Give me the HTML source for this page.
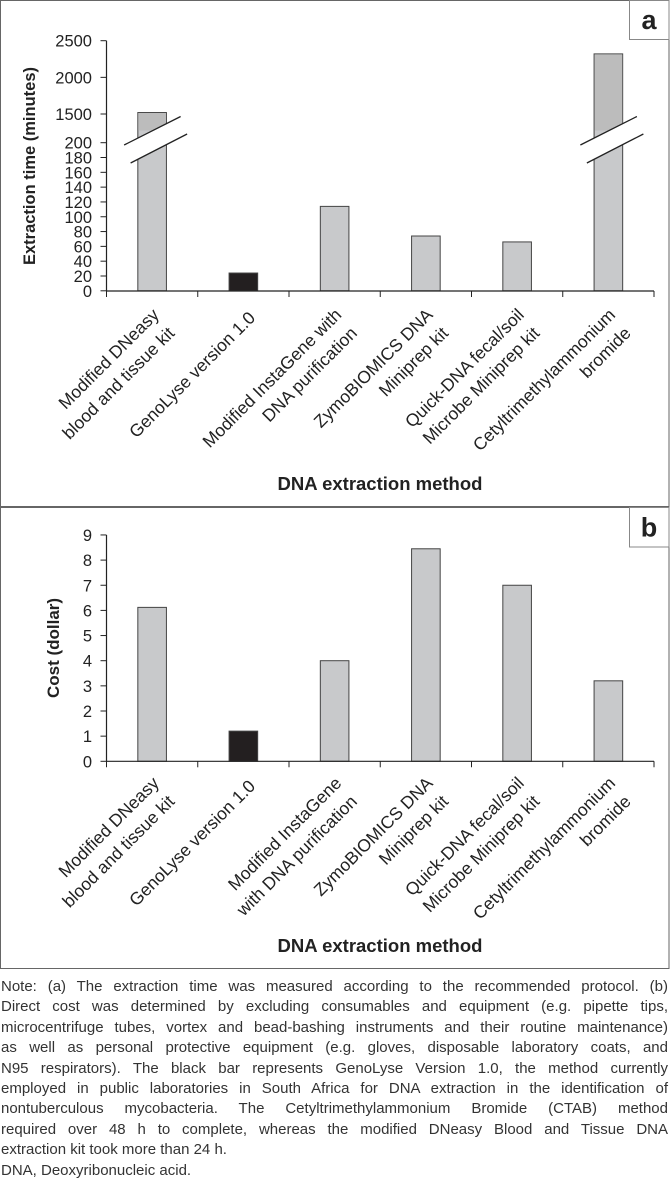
<!DOCTYPE html>
<html><head><meta charset="utf-8"><style>
body{margin:0;background:#fff;width:670px;height:1178px;overflow:hidden;font-family:"Liberation Sans",sans-serif}
svg{position:absolute;left:0;top:0}
#notes{position:absolute;left:1px;top:977px;width:667px;font-size:15px;line-height:20.4px;color:#333}
#notes div{white-space:nowrap;text-align:justify;text-align-last:justify}
#notes div.l{text-align-last:left}
</style></head><body>
<svg id="fig" width="670" height="975"></svg>
<div id="notes">
<div>Note: (a) The extraction time was measured according to the recommended protocol. (b)</div>
<div>Direct cost was determined by excluding consumables and equipment (e.g. pipette tips,</div>
<div>microcentrifuge tubes, vortex and bead-bashing instruments and their routine maintenance)</div>
<div>as well as personal protective equipment (e.g. gloves, disposable laboratory coats, and</div>
<div>N95 respirators). The black bar represents GenoLyse Version 1.0, the method currently</div>
<div>employed in public laboratories in South Africa for DNA extraction in the identification of</div>
<div>nontuberculous mycobacteria. The Cetyltrimethylammonium Bromide (CTAB) method</div>
<div>required over 48 h to complete, whereas the modified DNeasy Blood and Tissue DNA</div>
<div class="l">extraction kit took more than 24 h.</div>
<div class="l">DNA, Deoxyribonucleic acid.</div>
</div>
<script>
const labelsA=[["Modified DNeasy","blood and tissue kit"],["GenoLyse version 1.0"],["Modified InstaGene with","DNA purification"],["ZymoBIOMICS DNA","Miniprep kit"],["Quick-DNA fecal/soil","Microbe Miniprep kit"],["Cetyltrimethylammonium","bromide"]];
const labelsB=[["Modified DNeasy","blood and tissue kit"],["GenoLyse version 1.0"],["Modified InstaGene","with DNA purification"],["ZymoBIOMICS DNA","Miniprep kit"],["Quick-DNA fecal/soil","Microbe Miniprep kit"],["Cetyltrimethylammonium","bromide"]];
const timeValues=[1520,24,114,74,66,2320];
const costValues=[6.12,1.2,4.0,8.45,7.0,3.2];
const timeTicksLow=[0,20,40,60,80,100,120,140,160,180,200];
const timeTicksHigh=[1500,2000,2500];
const costTicks=[0,1,2,3,4,5,6,7,8,9];
const highlight=[false,true,false,false,false,false];

const NS="http://www.w3.org/2000/svg";
const svg=document.getElementById('fig');
function el(t,a,p){const e=document.createElementNS(NS,t);for(const k in a)e.setAttribute(k,a[k]);(p||svg).appendChild(e);return e;}
const X0=106.5,X1=654,CW=(X1-X0)/6,BW=28.6;
function xc(i){return X0+CW*(i+0.5);}
function yTime(v){return v<=200?290.8-v*0.7405:114-(v-1500)*0.0733;}
function yCost(v){return 761.3-v*25.15;}

let p=el('rect',{x:0.5,y:0.5,width:668.5,height:506,fill:'none',stroke:'#666','stroke-width':1});

p=el('rect',{x:0.5,y:507.5,width:668.5,height:461,fill:'none',stroke:'#666','stroke-width':1});

function tagBox(y0,h,t,name){
  const r=el('rect',{x:629.5,y:y0,width:39.5,height:h,fill:'#fff',stroke:'#888'});
  
  const tx=el('text',{x:649,y:y0+h/2+9,'text-anchor':'middle','font-size':27,'font-weight':'bold',fill:'#222'});
  tx.textContent=t;
}
tagBox(0.5,39,'a','panel-label-a');
tagBox(507.5,39.5,'b','panel-label-b');

function xAxis(base,labels,tipOff,name){
  const l=el('line',{x1:X0,y1:base,x2:X1,y2:base,stroke:'#222','stroke-width':1.2});
  
  for(let i=0;i<=6;i++){const t=el('line',{x1:X0+CW*i,y1:base,x2:X0+CW*i,y2:base+6,stroke:'#222'});
    }
  labels.forEach((ls,i)=>{
    const one=ls.length===1;
    const g=el('g',{transform:`translate(${xc(i)+(one?3:-2)},${base+tipOff+(one?3:0)}) rotate(-45)`});
    
    ls.forEach((s,j)=>{const t=el('text',{x:-j*2,y:14+j*24,'text-anchor':'end','font-size':17.5,fill:'#222'},g);t.textContent=s;});
  });
}
function yTick(y,label,name){
  const t=el('line',{x1:X0-6,y1:y,x2:X0,y2:y,stroke:'#222'});
  
  const tx=el('text',{x:92,y:y+6,'text-anchor':'end','font-size':16.5,fill:'#222'});
  tx.textContent=label;
}
function bar(i,top,base,name,dark){
  const r=el('rect',{x:xc(i)-BW/2,y:top,width:BW,height:base-top,fill:dark?'#231f20':'#c8c9cb',stroke:'#444','stroke-width':1});
  
}

let ax=el('line',{x1:X0,y1:yTime(2500),x2:X0,y2:291,stroke:'#222','stroke-width':1.2});

timeTicksLow.forEach(v=>yTick(yTime(v),v,'a-y-tick-label'));
timeTicksHigh.forEach(v=>yTick(yTime(v),v,'a-y-tick-label'));
timeValues.forEach((v,i)=>{
  const base=yTime(0);
  bar(i,yTime(v),base,'time-bar-'+(i+1),highlight[i]);
  if(v>200){
    const c=xc(i);
    const up=el('rect',{x:c-BW/2+0.5,y:yTime(v)+0.5,width:BW-1,height:130-yTime(v),fill:'#bcbcbc'});
    
    const poly=el('polygon',{points:`${c-28},145 ${c+28.5},116.5 ${c+35},134 ${c-21.5},163`,fill:'#fff'});
    
    [[c-28,145,c+28.5,116.5],[c-21.5,163,c+35,134]].forEach(a=>{
      const l=el('line',{x1:a[0],y1:a[1],x2:a[2],y2:a[3],stroke:'#222','stroke-width':1.3});
      
    });
  }
});
xAxis(291,labelsA,15,'a');
let t=el('text',{transform:'translate(35,166) rotate(-90)','text-anchor':'middle','font-size':16.5,'font-weight':'bold',fill:'#222'});
t.textContent='Extraction time (minutes)';
t=el('text',{x:380,y:490,'text-anchor':'middle','font-size':18.5,'font-weight':'bold',fill:'#222'});
t.textContent='DNA extraction method';

ax=el('line',{x1:X0,y1:yCost(9),x2:X0,y2:761.3,stroke:'#222','stroke-width':1.2});

costTicks.forEach(v=>yTick(yCost(v),v,'b-y-tick-label'));
costValues.forEach((v,i)=>bar(i,yCost(v),yCost(0),'cost-bar-'+(i+1),highlight[i]));
xAxis(761.3,labelsB,13,'b');
t=el('text',{transform:'translate(59,648) rotate(-90)','text-anchor':'middle','font-size':17,'font-weight':'bold',fill:'#222'});
t.textContent='Cost (dollar)';
t=el('text',{x:380,y:952,'text-anchor':'middle','font-size':18.5,'font-weight':'bold',fill:'#222'});
t.textContent='DNA extraction method';
</script>
</body></html>
